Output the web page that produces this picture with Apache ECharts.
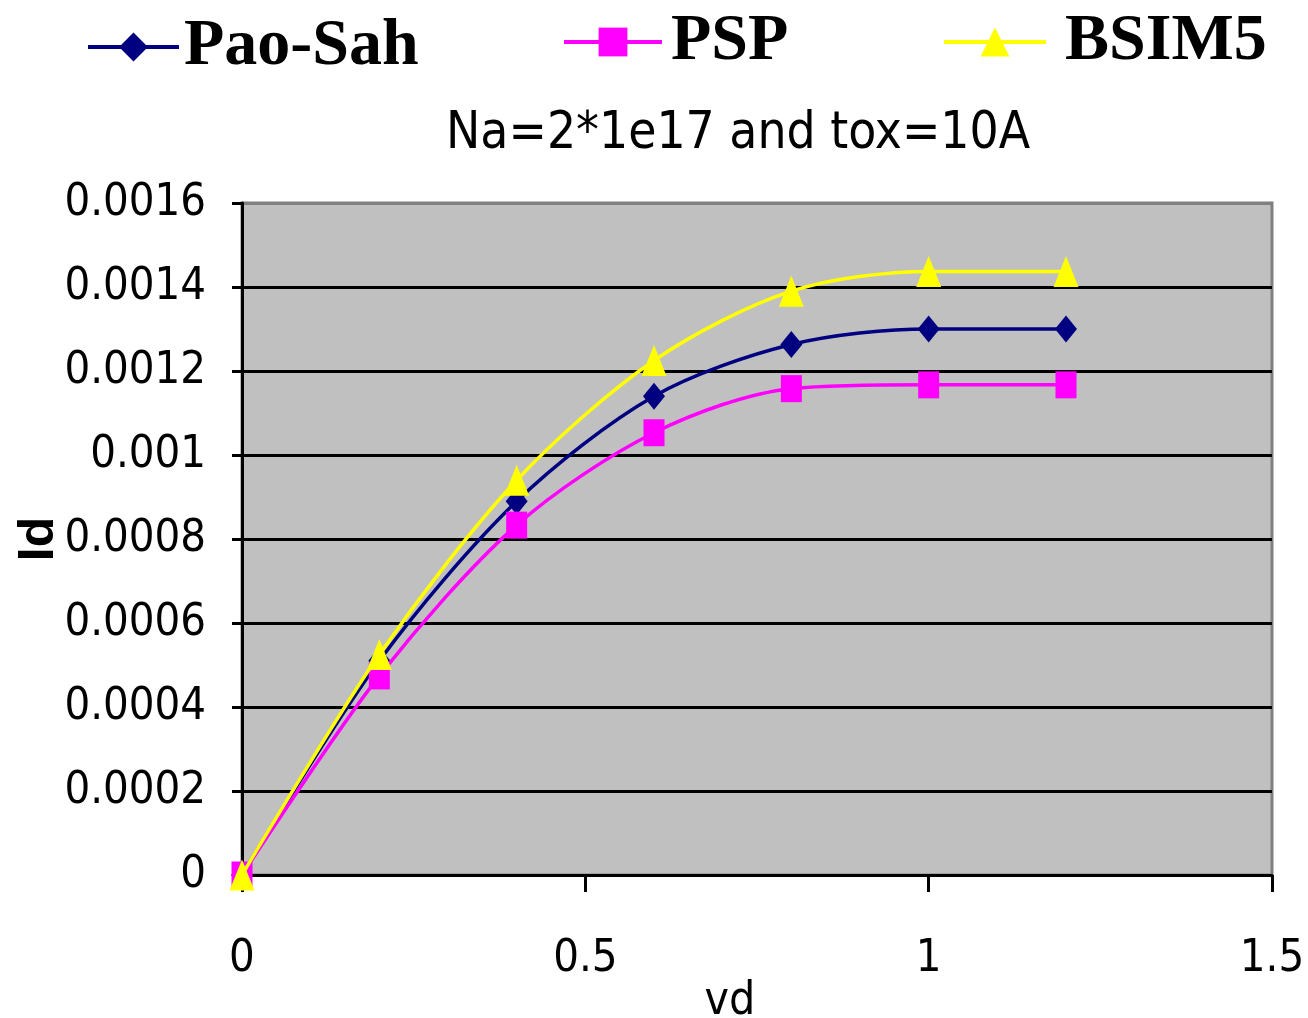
<!DOCTYPE html>
<html>
<head>
<meta charset="utf-8">
<script src="https://cdn.jsdelivr.net/npm/echarts@6/dist/echarts.min.js"></script>
<style>
html,body{margin:0;padding:0;background:#fff;}
#c{width:1308px;height:1018px;}
</style>
</head>
<body>
<div id="c"></div>
<script>
const vd = [0, 0.2, 0.4, 0.6, 0.8, 1.0, 1.2];
const paoSah = [0, 0.00051, 0.00089, 0.00114, 0.001263, 0.0013, 0.0013];
const psp = [0, 0.000474, 0.000833, 0.001053, 0.001158, 0.001167, 0.001167];
const bsim5 = [0, 0.000525, 0.00094, 0.001225, 0.00139, 0.001437, 0.001437];
const xTicks = [0, 0.5, 1, 1.5];
const yTicks = [0, 0.0002, 0.0004, 0.0006, 0.0008, 0.001, 0.0012, 0.0014, 0.0016];
const titleText = 'Na=2*1e17 and tox=10A';
const xName = 'vd';
const yName = 'Id';

const narrow = '"DejaVu Sans Condensed", "Liberation Sans Narrow", sans-serif';
const serif = '"Liberation Serif", "Times New Roman", serif';

function pairs(ys){ return vd.map((x,i)=>[x, ys[i]]); }

const chart = echarts.init(document.getElementById('c'), null, {renderer:'canvas'});
const legendText = {fontFamily: serif, fontWeight:'bold', fontSize:66, color:'#000', lineHeight:66};
chart.setOption({
  animation:false,
  backgroundColor:'#fff',
  title:{
    text:titleText, left:441, top:104,
    textStyle:{fontFamily:narrow, fontWeight:'normal', fontSize:51, color:'#000'}
  },
  legend:[
    {data:['Pao-Sah'], left:81, top:9, itemWidth:91, itemHeight:36, textStyle:legendText, lineStyle:{width:4}},
    {data:['PSP'], left:557, top:4, itemWidth:98, itemHeight:36, textStyle:Object.assign({padding:[0,0,0,4]},legendText), lineStyle:{width:4}},
    {data:['BSIM5'], left:937, top:4, itemWidth:102, itemHeight:36, textStyle:Object.assign({padding:[0,0,0,14]},legendText), lineStyle:{width:4}}
  ],
  grid:{left:242, right:36, top:203, bottom:143, outerBoundsMode:'none', containLabel:false,
        show:true, backgroundColor:'#c0c0c0', borderColor:'#808080', borderWidth:3},
  xAxis:{
    type:'value', min:xTicks[0], max:xTicks[xTicks.length-1], interval:xTicks[1]-xTicks[0],
    name:xName, nameLocation:'middle', nameGap:104, nameMoveOverlap:false,
    nameTextStyle:{fontFamily:narrow, fontSize:46, color:'#000', padding:[0,54,0,0]},
    axisLine:{show:true, onZero:false, lineStyle:{color:'#000', width:3}},
    axisTick:{show:true, length:17, lineStyle:{color:'#000', width:3}},
    axisLabel:{fontFamily:narrow, fontSize:45, color:'#000', margin:62, formatter:v=>String(+v.toFixed(2))},
    splitLine:{show:false}
  },
  yAxis:{
    type:'value', min:yTicks[0], max:yTicks[yTicks.length-1], interval:yTicks[1]-yTicks[0],
    name:yName, nameLocation:'middle', nameGap:178, nameRotate:90, nameMoveOverlap:false,
    nameTextStyle:{fontFamily:'"Liberation Sans", Arial, sans-serif', fontWeight:'bold', fontSize:50, color:'#000'},
    axisLine:{show:true, lineStyle:{color:'#000', width:3}},
    axisTick:{show:true, length:10, lineStyle:{color:'#000', width:3}},
    axisLabel:{fontFamily:narrow, fontSize:45, color:'#000', margin:36, formatter:v=>String(+v.toFixed(4))},
    splitLine:{show:true, lineStyle:{color:['#000','#000','#000','#000','#000','#000','#000','#000','#808080'], width:3}}
  },
  series:[
    {name:'Pao-Sah', type:'line', data:pairs(paoSah), smooth:0.3, symbol:'diamond', symbolSize:[22,27],
     lineStyle:{color:'#000080', width:3.5}, itemStyle:{color:'#000080'}, z:3},
    {name:'PSP', type:'line', data:pairs(psp), smooth:0.3, symbol:'rect', symbolSize:[21,27],
     lineStyle:{color:'#ff00ff', width:3.5}, itemStyle:{color:'#ff00ff'}, z:4},
    {name:'BSIM5', type:'line', data:pairs(bsim5), smooth:0.3, symbol:'triangle', symbolSize:[25,31],
     lineStyle:{color:'#ffff00', width:3.5}, itemStyle:{color:'#ffff00'}, z:5}
  ]
});
</script>
</body>
</html>
